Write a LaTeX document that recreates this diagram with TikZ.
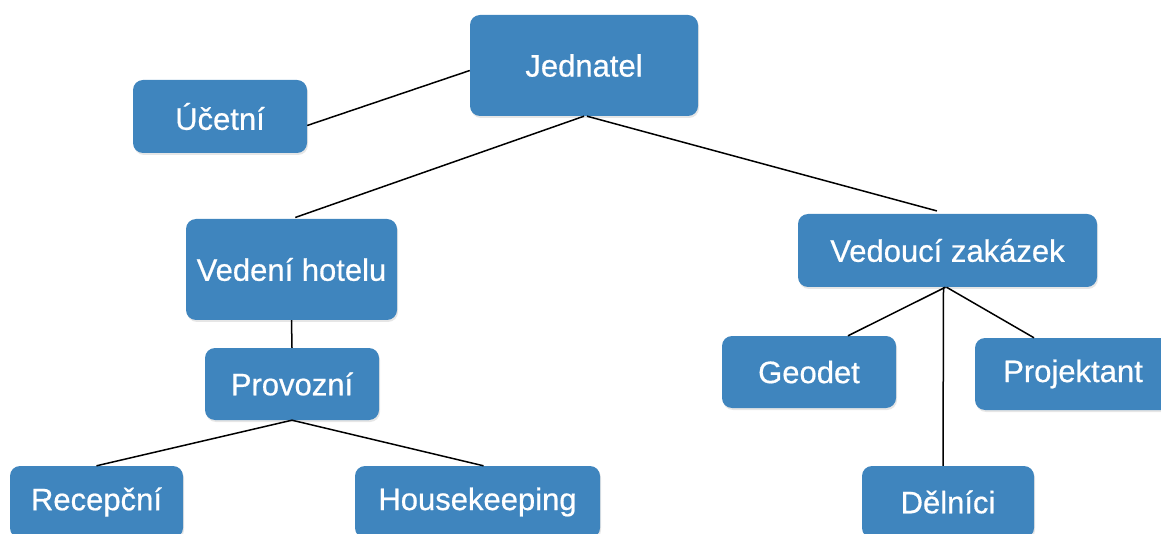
\documentclass[tikz,border=0pt]{standalone}
\usepackage{fontspec}
\setmainfont{Liberation Sans}
\newfontfamily\boxfont[FakeBold=0.6]{Liberation Sans}
\usepackage{tikz}
\usetikzlibrary{shadows}
\definecolor{boxblue}{RGB}{63,133,190}

\begin{document}
\begin{tikzpicture}[x=1pt,y=-1pt,
    box/.style={rectangle, rounded corners=10pt, fill=boxblue, text=white,
      font=\boxfont\fontsize{31}{36}\selectfont, inner sep=0pt,
      drop shadow={opacity=0.2, shadow xshift=1pt, shadow yshift=-2pt}},
    link/.style={line width=1.5pt}]
        \useasboundingbox (0,0) rectangle (1161,534);
        \node [box, minimum width=228, minimum height=101](jed) at (584,65.5){Jednatel};
        \node [box, minimum width=174, minimum height=73](uce) at (220,116.5){Účetní};
        \node [box, minimum width=211, minimum height=101](ved) at (291.5,269.5){Vedení hotelu};
        \node [box, minimum width=174, minimum height=72](pro) at (292,384){Provozní};
        \node [box, minimum width=173, minimum height=72](rec) at (96.5,502){Recepční};
        \node [box, minimum width=245, minimum height=72](hou) at (477.5,502){Housekeeping};
        \node [box, minimum width=299, minimum height=73](zak) at (947.5,250.5){Vedoucí zakázek};
        \node [box, minimum width=174, minimum height=72](geo) at (809,372){Geodet};
        \node [box, minimum width=196, minimum height=72](prj) at (1073,374){Projektant};
        \node [box, minimum width=172, minimum height=72](del) at (948,502){Dělníci};

        \draw [link] ([yshift=-9pt]uce.east) -- ([yshift=-5pt]jed.west);
        \draw [link, shorten >=4pt] (jed.south) -- (ved.north);
        \draw [link, shorten >=11pt] ([xshift=3pt]jed.south) -- (zak.north);
        \draw [link] (ved.south) -- (pro.north);
        \draw [link] (pro.south) -- (rec.north);
        \draw [link] (pro.south) -- ([xshift=6pt]hou.north);
        \draw [link] ([xshift=-2pt]zak.south) -- ([xshift=39pt]geo.north);
        \draw [link] ([xshift=-1pt]zak.south) -- ([xshift=-39pt]prj.north);
        \draw [link] ([xshift=-4pt]zak.south) -- ([xshift=-5pt]del.north);
      \end{tikzpicture}
\end{document}
